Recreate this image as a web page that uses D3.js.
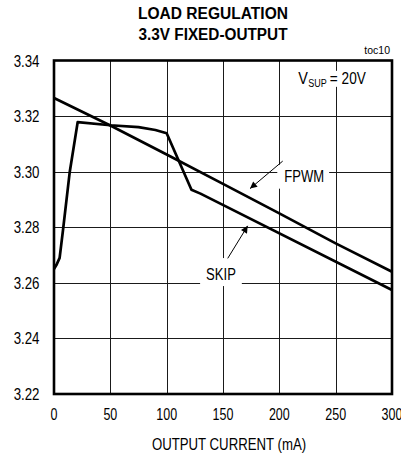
<!DOCTYPE html>
<html>
<head>
<meta charset="utf-8">
<script src="https://cdn.jsdelivr.net/npm/d3@7"></script>
<style>
html,body{margin:0;padding:0;background:#fff;}
svg{display:block;}
text{font-family:"Liberation Sans",Arial,Helvetica,sans-serif;fill:#000;}
</style>
</head>
<body>
<svg id="chart" width="401" height="458"></svg>
<script>
// ---- data ----
const xTicks = [0, 50, 100, 150, 200, 250, 300];
const yTicks = [3.22, 3.24, 3.26, 3.28, 3.30, 3.32, 3.34];
const fpwmCurrent = [0, 50, 100, 150, 200, 250, 300];
const fpwmVoltage = [3.3265, 3.3166, 3.3062, 3.2956, 3.2850, 3.2742, 3.2640];
const skipCurrent = [0, 2, 5, 8, 14, 21, 50, 75, 90, 100, 122, 130, 300];
const skipVoltage = [3.2650, 3.2663, 3.2690, 3.2790, 3.3000, 3.3178, 3.3167, 3.3160, 3.3150, 3.3138, 3.2935, 3.2921, 3.2574];
const titleLines = ["LOAD REGULATION", "3.3V FIXED-OUTPUT"];
const xLabel = "OUTPUT CURRENT (mA)";
const tocLabel = "toc10";
const vsupParts = ["V", "SUP", "= 20V"];

// ---- layout ----
const plot = {left: 54, right: 392, top: 60.5, bottom: 394};
const svg = d3.select("#chart");
const FS = 16;

const x = d3.scaleLinear().domain([0, 300]).range([plot.left, plot.right]);
const y = d3.scaleLinear().domain([3.22, 3.34]).range([plot.bottom, plot.top]);

function squeeze(sel, k) {
  sel.each(function() {
    const w = this.getComputedTextLength();
    d3.select(this).attr("textLength", w * k).attr("lengthAdjust", "spacingAndGlyphs");
  });
  return sel;
}

// gridlines
const grid = svg.append("g").attr("shape-rendering", "crispEdges");
grid.selectAll("line.vx").data(xTicks.slice(1, -1)).join("line")
  .attr("x1", d => Math.round(x(d)) + 0.5).attr("x2", d => Math.round(x(d)) + 0.5)
  .attr("y1", plot.top).attr("y2", plot.bottom)
  .attr("stroke", "#1a1a1a").attr("stroke-width", 1);
grid.selectAll("line.hy").data(yTicks.slice(1, -1)).join("line")
  .attr("y1", d => Math.round(y(d)) + 0.5).attr("y2", d => Math.round(y(d)) + 0.5)
  .attr("x1", plot.left).attr("x2", plot.right)
  .attr("stroke", "#1a1a1a").attr("stroke-width", 1);

// label boxes (white, hide gridlines) + labels
const ann = svg.append("g");
function boxedText(build, pad) {
  const g = ann.append("g");
  const rect = g.append("rect").attr("fill", "#fff");
  build(g);
  const b = g.node().getBBox();
  rect.attr("x", b.x - pad.l).attr("y", b.y - pad.t)
      .attr("width", b.width + pad.l + pad.r).attr("height", b.height + pad.t + pad.b);
  return g;
}

// V_SUP label (three separate pieces)
boxedText(g => {
  let cx = x(216.8);
  const base = y(3.3316);
  const sizes = [FS, 10, FS];
  const dys = [0, 3, 0];
  const gaps = [0.5, 3, 0];
  const ks = [0.9, 0.9, 0.85];
  vsupParts.forEach((s, i) => {
    const t = g.append("text").attr("x", cx).attr("y", base + dys[i])
      .attr("font-size", sizes[i]).text(s);
    const w = t.node().getComputedTextLength() * ks[i];
    t.attr("textLength", w).attr("lengthAdjust", "spacingAndGlyphs");
    cx += w + gaps[i];
  });
}, {l: 2, r: 2, t: -1, b: -2});

// FPWM label
boxedText(g => {
  const t = g.append("text").attr("x", x(204.4)).attr("y", y(3.2964)).attr("font-size", FS).text("FPWM");
  squeeze(t, 0.815);
}, {l: 7, r: 5, t: 3, b: 4});

// SKIP label
boxedText(g => {
  const t = g.append("text").attr("x", x(148.2)).attr("y", y(3.2610)).attr("font-size", FS)
    .attr("text-anchor", "middle").text("SKIP");
  squeeze(t, 0.815);
}, {l: 6, r: 6, t: 8, b: 3});

// curves
const line = d3.line().x(d => x(d[0])).y(d => y(d[1]));
const fpwm = fpwmCurrent.map((c, i) => [c, fpwmVoltage[i]]);
const skip = skipCurrent.map((c, i) => [c, skipVoltage[i]]);
svg.append("path").datum(fpwm).attr("d", line)
  .attr("fill", "none").attr("stroke", "#000").attr("stroke-width", 2.7).attr("stroke-linejoin", "round");
svg.append("path").datum(skip).attr("d", line)
  .attr("fill", "none").attr("stroke", "#000").attr("stroke-width", 2.7).attr("stroke-linejoin", "round");

// arrows
const defs = svg.append("defs");
defs.append("marker").attr("id", "ah").attr("viewBox", "0 0 10 10")
  .attr("refX", 10).attr("refY", 5).attr("markerWidth", 10).attr("markerHeight", 7)
  .attr("markerUnits", "userSpaceOnUse").attr("orient", "auto")
  .append("path").attr("d", "M0,0 L10,5 L0,10 z").attr("fill", "#000");
const arrows = [
  {from: [203.0, 3.3038], to: [174.0, 3.2939]},
  {from: [154.2, 3.2688], to: [171.9, 3.2805]}
];
svg.selectAll("line.arrow").data(arrows).join("line")
  .attr("x1", d => x(d.from[0])).attr("y1", d => y(d.from[1]))
  .attr("x2", d => x(d.to[0])).attr("y2", d => y(d.to[1]))
  .attr("stroke", "#000").attr("stroke-width", 1).attr("marker-end", "url(#ah)");

// frame
svg.append("rect").attr("x", plot.left).attr("y", plot.top)
  .attr("width", plot.right - plot.left).attr("height", plot.bottom - plot.top)
  .attr("fill", "none").attr("stroke", "#000").attr("stroke-width", 2.6);

// y tick labels
const yl = svg.append("g").selectAll("text").data(yTicks).join("text")
  .attr("x", 39.5).attr("y", d => y(d) + 6).attr("text-anchor", "end")
  .attr("font-size", FS).text(d => d.toFixed(2));
squeeze(yl, 0.83);

// x tick labels
const xl = svg.append("g").selectAll("text").data(xTicks).join("text")
  .attr("x", d => x(d)).attr("y", plot.bottom + 26).attr("text-anchor", "middle")
  .attr("font-size", FS).text(d => d);
squeeze(xl, 0.78);

// axis title
const xt = svg.append("text").attr("x", 229).attr("y", 450).attr("text-anchor", "middle")
  .attr("font-size", FS).text(xLabel);
squeeze(xt, 0.825);

// title
svg.selectAll("text.title").data(titleLines).join("text")
  .attr("x", 213).attr("y", (d, i) => 19.3 + i * 20.7).attr("text-anchor", "middle")
  .attr("font-size", 16).attr("font-weight", "bold").text(d => d)
  .each(function(d, i) {
    const target = i === 0 ? 150 : 149;
    d3.select(this).attr("textLength", target).attr("lengthAdjust", "spacingAndGlyphs");
  });

// toc label
svg.append("text").attr("x", 390).attr("y", 54).attr("text-anchor", "end")
  .attr("font-size", 10.5).text(tocLabel);
</script>
</body>
</html>
